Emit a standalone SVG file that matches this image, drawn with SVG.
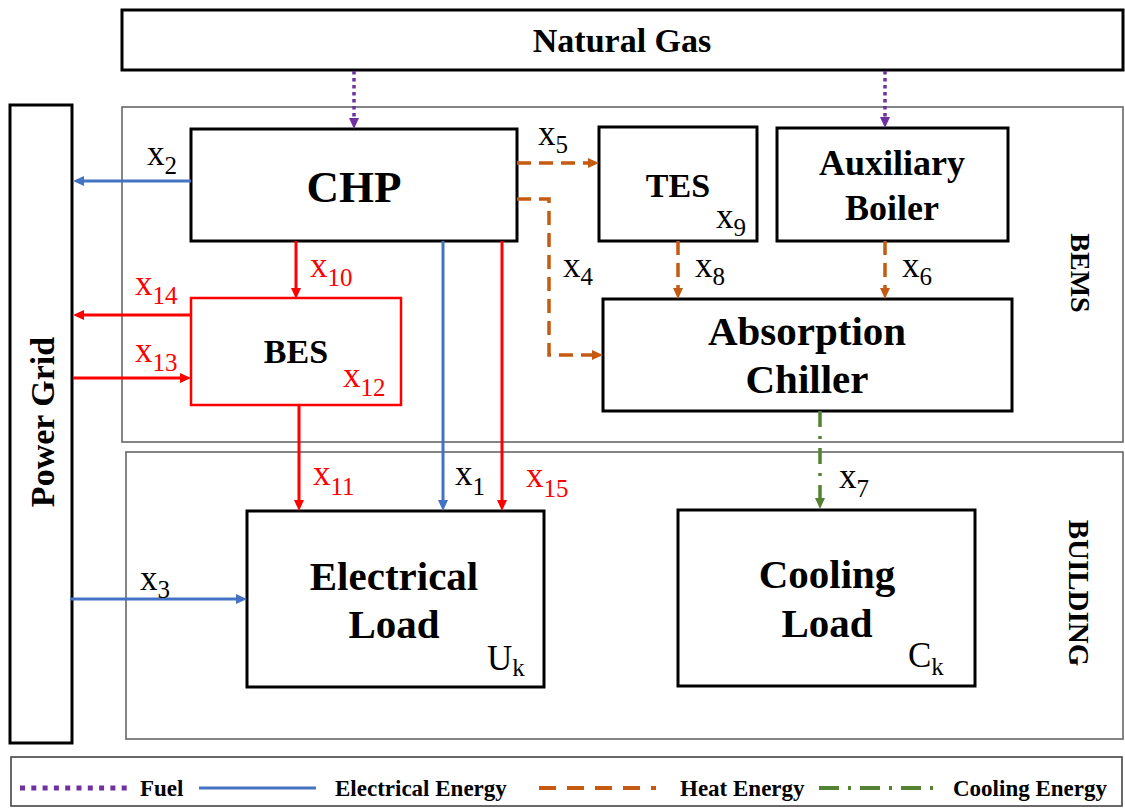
<svg xmlns="http://www.w3.org/2000/svg" width="1125" height="809" viewBox="0 0 1125 809">
<style>
.box{fill:#fff;stroke:#000;stroke-width:3}
.frame{fill:none;stroke:#666;stroke-width:1.6}
.t{font-family:"Liberation Serif","Times New Roman",serif;font-weight:bold;text-anchor:middle;fill:#000}
.v{font-family:"Liberation Serif","Times New Roman",serif;font-size:35px;fill:#000}
.vr{fill:#FF0000}
.sub{font-size:25px}
.lg{font-family:"Liberation Serif","Times New Roman",serif;font-weight:bold;font-size:23px;fill:#000}
.fuel{fill:none;stroke:#7030A0;stroke-width:3.5;stroke-dasharray:3.5 3.5}
.elec{fill:none;stroke:#4472C4;stroke-width:3}
.red{fill:none;stroke:#FF0000;stroke-width:3}
.heat{fill:none;stroke:#C55A11;stroke-width:3.5;stroke-dasharray:14 8}
.cool{fill:none;stroke:#548235;stroke-width:3.5;stroke-dasharray:16 9 3 9}
</style>
<defs>
<marker id="aB" markerWidth="11" markerHeight="10" refX="0" refY="5" orient="auto" markerUnits="userSpaceOnUse"><path d="M0,0 L11,5 L0,10 z" fill="#4472C4"/></marker>
<marker id="aR" markerWidth="11" markerHeight="10" refX="0" refY="5" orient="auto" markerUnits="userSpaceOnUse"><path d="M0,0 L11,5 L0,10 z" fill="#FF0000"/></marker>
<marker id="aO" markerWidth="11" markerHeight="10" refX="0" refY="5" orient="auto" markerUnits="userSpaceOnUse"><path d="M0,0 L11,5 L0,10 z" fill="#C55A11"/></marker>
<marker id="aP" markerWidth="11" markerHeight="10" refX="0" refY="5" orient="auto" markerUnits="userSpaceOnUse"><path d="M0,0 L11,5 L0,10 z" fill="#7030A0"/></marker>
<marker id="aG" markerWidth="11" markerHeight="10" refX="0" refY="5" orient="auto" markerUnits="userSpaceOnUse"><path d="M0,0 L11,5 L0,10 z" fill="#548235"/></marker>
</defs>
<rect width="1125" height="809" fill="#fff"/>

<g id="bems-frame">
<rect class="frame" x="122" y="107" width="1001" height="335"/>
<text class="t" font-size="28" transform="translate(1071,273) rotate(90)">BEMS</text>
</g>
<g id="building-frame">
<rect class="frame" x="126" y="452" width="997" height="287"/>
<text class="t" font-size="29" transform="translate(1069,593) rotate(90)">BUILDING</text>
</g>

<g id="natural-gas">
<rect class="box" x="122" y="10" width="1001" height="60"/>
<text class="t" x="622" y="52" font-size="34">Natural Gas</text>
</g>
<g id="power-grid">
<rect class="box" x="10" y="105" width="62" height="638"/>
<text class="t" font-size="34" transform="translate(54,422) rotate(-90)">Power Grid</text>
</g>
<g id="chp">
<rect class="box" x="191" y="129" width="326" height="112"/>
<text class="t" x="354" y="202" font-size="45">CHP</text>
</g>
<g id="tes">
<rect class="box" x="599" y="127" width="158" height="114"/>
<text class="t" x="678" y="197" font-size="34">TES</text>
<text class="v" x="716" y="228">x<tspan class="sub" dy="8">9</tspan></text>
</g>
<g id="aux-boiler">
<rect class="box" x="777" y="128" width="231" height="113"/>
<text class="t" x="892" y="175" font-size="36">Auxiliary</text>
<text class="t" x="892" y="220" font-size="36">Boiler</text>
</g>
<g id="bes">
<rect x="191" y="298" width="210" height="107" fill="#fff" stroke="#FF0000" stroke-width="2.5"/>
<text class="t" x="296" y="363" font-size="34">BES</text>
<text class="v vr" x="343" y="387">x<tspan class="sub" dy="9">12</tspan></text>
</g>
<g id="absorption-chiller">
<rect class="box" x="603" y="299" width="409" height="112"/>
<text class="t" x="807" y="345" font-size="41">Absorption</text>
<text class="t" x="807" y="393" font-size="41">Chiller</text>
</g>
<g id="electrical-load">
<rect class="box" x="247" y="511" width="297" height="176"/>
<text class="t" x="394" y="590" font-size="41">Electrical</text>
<text class="t" x="394" y="638" font-size="41">Load</text>
<text class="v" x="487" y="670">U<tspan class="sub" dy="6">k</tspan></text>
</g>
<g id="cooling-load">
<rect class="box" x="678" y="510" width="297" height="176"/>
<text class="t" x="827" y="588" font-size="41">Cooling</text>
<text class="t" x="827" y="637" font-size="41">Load</text>
<text class="v" x="908" y="667">C<tspan class="sub" dy="8">k</tspan></text>
</g>

<g id="connectors">
<path class="fuel" d="M354,71 V118" marker-end="url(#aP)"/>
<path class="fuel" d="M885,71 V117" marker-end="url(#aP)"/>
<path class="elec" d="M191,181 H84" marker-end="url(#aB)"/>
<path class="red" d="M296,241 V288" marker-end="url(#aR)"/>
<path class="red" d="M191,315 H84" marker-end="url(#aR)"/>
<path class="red" d="M73,378 H180" marker-end="url(#aR)"/>
<path class="red" d="M299,405 V500" marker-end="url(#aR)"/>
<path class="elec" d="M443,241 V500" marker-end="url(#aB)"/>
<path class="red" d="M502,241 V500" marker-end="url(#aR)"/>
<path class="elec" d="M70,599 H236" marker-end="url(#aB)"/>
<path class="heat" d="M517,163 H588" marker-end="url(#aO)"/>
<path class="heat" d="M517,199 H549 V355 H592" marker-end="url(#aO)"/>
<path class="heat" d="M678,241 V288" marker-end="url(#aO)"/>
<path class="heat" d="M885,241 V288" marker-end="url(#aO)"/>
<path class="cool" d="M820,411 V498" marker-end="url(#aG)"/>

<text class="v" x="147" y="165">x<tspan class="sub" dy="9">2</tspan></text>
<text class="v vr" x="310" y="277">x<tspan class="sub" dy="9">10</tspan></text>
<text class="v vr" x="135" y="295">x<tspan class="sub" dy="9">14</tspan></text>
<text class="v vr" x="135" y="362">x<tspan class="sub" dy="9">13</tspan></text>
<text class="v" x="538" y="145">x<tspan class="sub" dy="8">5</tspan></text>
<text class="v" x="563" y="277">x<tspan class="sub" dy="8">4</tspan></text>
<text class="v" x="695" y="277">x<tspan class="sub" dy="8">8</tspan></text>
<text class="v" x="902" y="277">x<tspan class="sub" dy="8">6</tspan></text>
<text class="v vr" x="313" y="485">x<tspan class="sub" dy="10">11</tspan></text>
<text class="v" x="455" y="485">x<tspan class="sub" dy="10">1</tspan></text>
<text class="v vr" x="526" y="487">x<tspan class="sub" dy="10">15</tspan></text>
<text class="v" x="140" y="590">x<tspan class="sub" dy="8">3</tspan></text>
<text class="v" x="839" y="488">x<tspan class="sub" dy="9">7</tspan></text>
</g>

<g id="legend">
<rect x="11" y="757" width="1111" height="49" fill="#fff" stroke="#444" stroke-width="1.6"/>
<path d="M20,788 H133" fill="none" stroke="#7030A0" stroke-width="5" stroke-dasharray="5 6.3"/>
<text class="lg" x="140" y="796">Fuel</text>
<path d="M199,788 H316" class="elec"/>
<text class="lg" x="335" y="796">Electrical Energy</text>
<path d="M539,788 H656" fill="none" stroke="#C55A11" stroke-width="4" stroke-dasharray="17 11"/>
<text class="lg" x="680" y="796">Heat Energy</text>
<path d="M819,788 H936" fill="none" stroke="#548235" stroke-width="4" stroke-dasharray="20 9 3 9"/>
<text class="lg" x="953" y="796">Cooling Energy</text>
</g>
</svg>
